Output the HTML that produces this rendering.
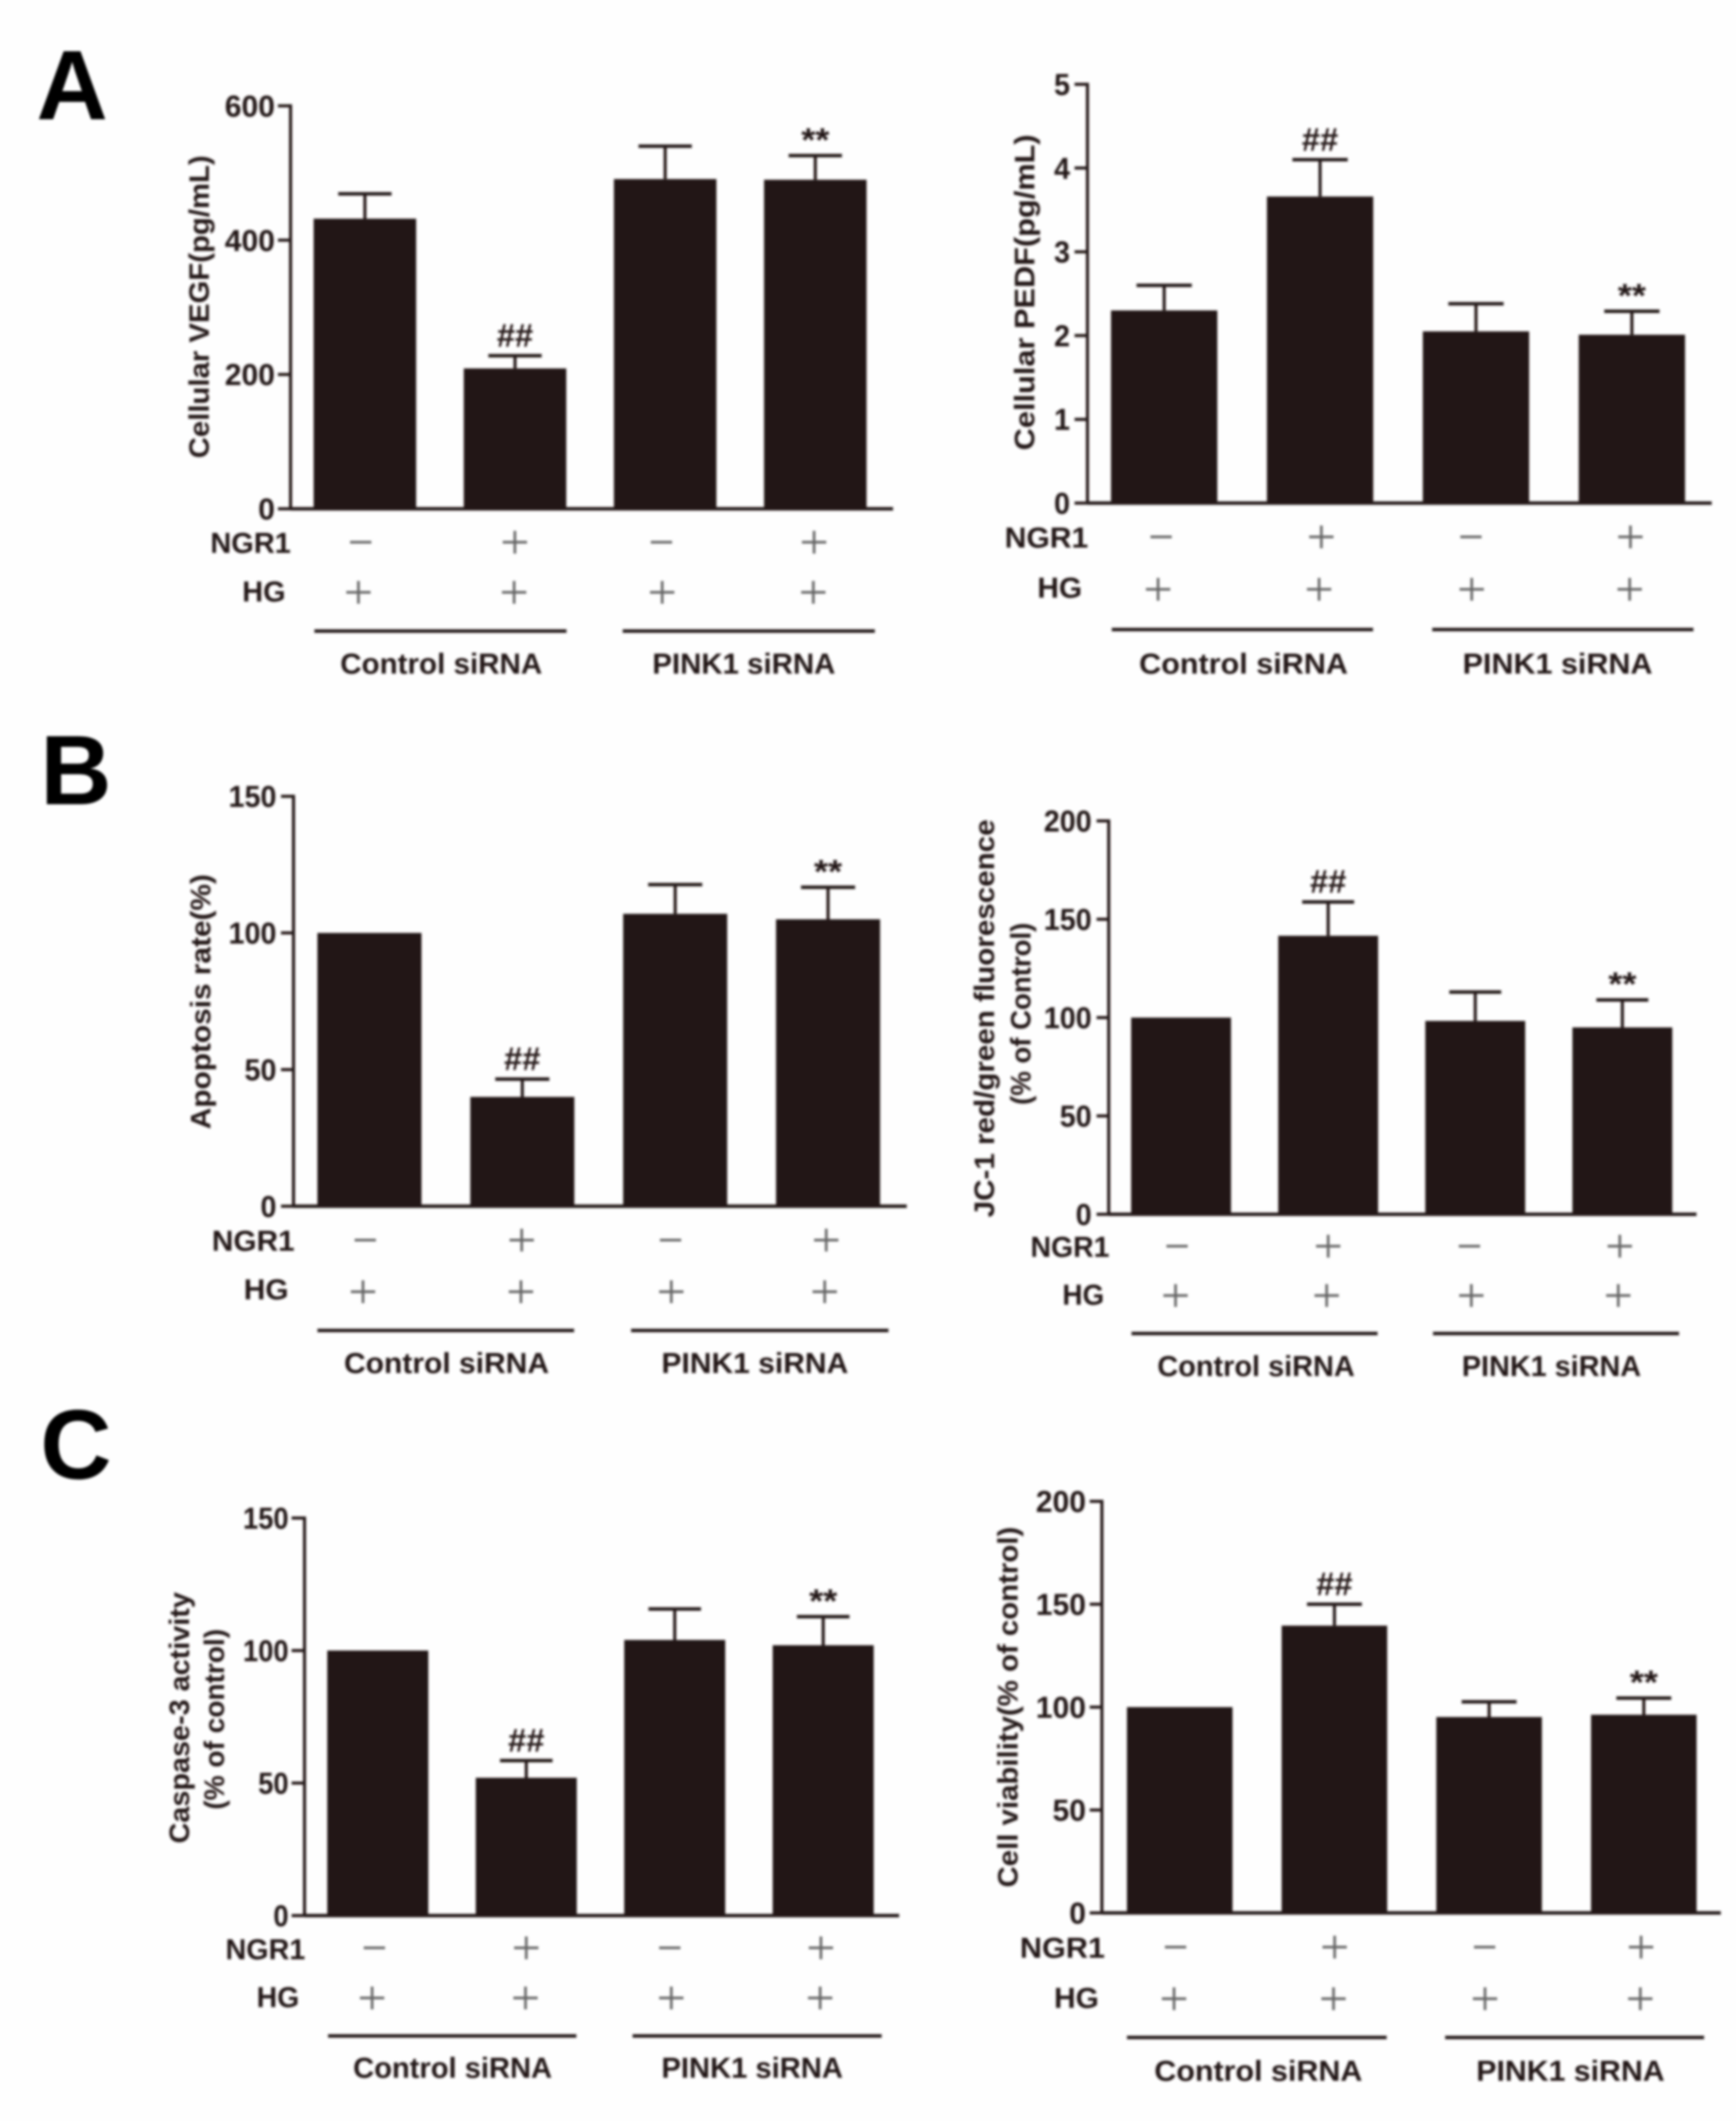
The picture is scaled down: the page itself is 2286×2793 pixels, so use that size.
<!DOCTYPE html>
<html lang="en">
<head>
<meta charset="utf-8">
<title>Six-panel bar chart figure</title>
<style>
html,body{margin:0;padding:0;background:#fff;}
svg{display:block;}
text{font-family:"Liberation Sans",Arial,sans-serif;font-weight:bold;fill:#231815;}
.letter{font-size:130px;fill:#000;}
.title{font-size:37px;text-anchor:middle;}
.row{font-size:38px;}
.group{font-size:38px;}
.tick{font-size:40px;text-anchor:end;}
.hash{font-size:44px;text-anchor:middle;}
.star{font-size:44px;text-anchor:middle;}
.gline{stroke:#231815;stroke-width:4.5;}
</style>
</head>
<body>
<svg xmlns="http://www.w3.org/2000/svg" width="2286" height="2793" viewBox="0 0 2286 2793">
<defs><filter id="soft" x="0" y="0" width="100%" height="100%" filterUnits="userSpaceOnUse" primitiveUnits="userSpaceOnUse"><feGaussianBlur stdDeviation="1.7"/></filter></defs>
<rect width="2286" height="2793" fill="#fefefe"/>
<g filter="url(#soft)">

<text class="letter" x="48" y="157">A</text>
<text class="letter" x="53" y="1059">B</text>
<text class="letter" x="53" y="1947">C</text>

<g id="vegf">
  <text class="title" transform="translate(275,404) rotate(-90)" textLength="399" lengthAdjust="spacingAndGlyphs">Cellular VEGF(pg/mL)</text>
  <text class="row" x="277" y="728" textLength="106" lengthAdjust="spacingAndGlyphs">NGR1</text>
  <text class="row" x="319" y="792" textLength="57" lengthAdjust="spacingAndGlyphs">HG</text>
  <line class="gline" x1="414" x2="746" y1="831" y2="831"/>
  <line class="gline" x1="820" x2="1152" y1="831" y2="831"/>
  <text class="group" x="448" y="887" textLength="266" lengthAdjust="spacingAndGlyphs">Control siRNA</text>
  <text class="group" x="859" y="887" textLength="241" lengthAdjust="spacingAndGlyphs">PINK1 siRNA</text>
</g>

<g id="pedf">
  <text class="title" transform="translate(1362,385) rotate(-90)" textLength="416" lengthAdjust="spacingAndGlyphs">Cellular PEDF(pg/mL)</text>
  <text class="row" x="1323" y="721" textLength="110" lengthAdjust="spacingAndGlyphs">NGR1</text>
  <text class="row" x="1366" y="787" textLength="59" lengthAdjust="spacingAndGlyphs">HG</text>
  <line class="gline" x1="1464" x2="1808" y1="829" y2="829"/>
  <line class="gline" x1="1886" x2="2230" y1="829" y2="829"/>
  <text class="group" x="1500" y="887" textLength="275" lengthAdjust="spacingAndGlyphs">Control siRNA</text>
  <text class="group" x="1926" y="887" textLength="250" lengthAdjust="spacingAndGlyphs">PINK1 siRNA</text>
</g>

<g id="apoptosis">
  <text class="title" transform="translate(277,1319) rotate(-90)" textLength="336" lengthAdjust="spacingAndGlyphs">Apoptosis rate(%)</text>
  <text class="row" x="279" y="1647" textLength="109" lengthAdjust="spacingAndGlyphs">NGR1</text>
  <text class="row" x="321" y="1711" textLength="59" lengthAdjust="spacingAndGlyphs">HG</text>
  <line class="gline" x1="418" x2="756" y1="1752" y2="1752"/>
  <line class="gline" x1="831" x2="1170" y1="1752" y2="1752"/>
  <text class="group" x="453" y="1808" textLength="270" lengthAdjust="spacingAndGlyphs">Control siRNA</text>
  <text class="group" x="871" y="1808" textLength="246" lengthAdjust="spacingAndGlyphs">PINK1 siRNA</text>
</g>

<g id="jc1">
  <text class="title" transform="translate(1309,1341) rotate(-90)" textLength="524" lengthAdjust="spacingAndGlyphs">JC-1 red/green fluorescence</text>
  <text class="title" transform="translate(1357,1335) rotate(-90)" textLength="240" lengthAdjust="spacingAndGlyphs">(% of Control)</text>
  <text class="row" x="1357" y="1655" textLength="104" lengthAdjust="spacingAndGlyphs">NGR1</text>
  <text class="row" x="1399" y="1718" textLength="55" lengthAdjust="spacingAndGlyphs">HG</text>
  <line class="gline" x1="1490" x2="1814" y1="1756" y2="1756"/>
  <line class="gline" x1="1887" x2="2211" y1="1756" y2="1756"/>
  <text class="group" x="1524" y="1812" textLength="260" lengthAdjust="spacingAndGlyphs">Control siRNA</text>
  <text class="group" x="1925" y="1812" textLength="236" lengthAdjust="spacingAndGlyphs">PINK1 siRNA</text>
</g>

<g id="caspase">
  <text class="title" transform="translate(249,2262) rotate(-90)" textLength="331" lengthAdjust="spacingAndGlyphs">Caspase-3 activity</text>
  <text class="title" transform="translate(295,2264) rotate(-90)" textLength="238" lengthAdjust="spacingAndGlyphs">(% of control)</text>
  <text class="row" x="297" y="2580" textLength="105" lengthAdjust="spacingAndGlyphs">NGR1</text>
  <text class="row" x="338" y="2643" textLength="56" lengthAdjust="spacingAndGlyphs">HG</text>
  <line class="gline" x1="432" x2="759" y1="2681" y2="2681"/>
  <line class="gline" x1="833" x2="1161" y1="2681" y2="2681"/>
  <text class="group" x="465" y="2736" textLength="262" lengthAdjust="spacingAndGlyphs">Control siRNA</text>
  <text class="group" x="871" y="2736" textLength="239" lengthAdjust="spacingAndGlyphs">PINK1 siRNA</text>
</g>

<g id="viability">
  <text class="title" transform="translate(1340,2248) rotate(-90)" textLength="475" lengthAdjust="spacingAndGlyphs">Cell viability(% of control)</text>
  <text class="row" x="1343" y="2578" textLength="112" lengthAdjust="spacingAndGlyphs">NGR1</text>
  <text class="row" x="1388" y="2644" textLength="59" lengthAdjust="spacingAndGlyphs">HG</text>
  <line class="gline" x1="1484" x2="1826" y1="2683" y2="2683"/>
  <line class="gline" x1="1903" x2="2244" y1="2683" y2="2683"/>
  <text class="group" x="1520" y="2740" textLength="274" lengthAdjust="spacingAndGlyphs">Control siRNA</text>
  <text class="group" x="1944" y="2740" textLength="248" lengthAdjust="spacingAndGlyphs">PINK1 siRNA</text>
</g>
</g>
</svg>

<script>
// Shared categories
const categories = ['Control siRNA HG', 'Control siRNA HG+NGR1', 'PINK1 siRNA HG', 'PINK1 siRNA HG+NGR1'];
const ngr1Signs = ['-', '+', '-', '+'];
const hgSigns = ['+', '+', '+', '+'];
const significance = ['', '##', '', '**'];

// Values
const vegfTicks = [0, 200, 400, 600];
const vegfValues = [432, 209, 491, 490];
const vegfErrors = [37, 19, 49, 36];

const pedfTicks = [0, 1, 2, 3, 4, 5];
const pedfValues = [2.30, 3.66, 2.05, 2.01];
const pedfErrors = [0.30, 0.44, 0.33, 0.28];

const apoptosisTicks = [0, 50, 100, 150];
const apoptosisValues = [100, 40, 107, 105];
const apoptosisErrors = [0, 6.5, 10.7, 11.7];

const jc1Ticks = [0, 50, 100, 150, 200];
const jc1Values = [100, 141.6, 98.3, 95];
const jc1Errors = [0, 17.2, 14.7, 14];

const caspaseTicks = [0, 50, 100, 150];
const caspaseValues = [100, 52, 104, 102];
const caspaseErrors = [0, 6.5, 11.7, 10.8];

const viabilityTicks = [0, 50, 100, 150, 200];
const viabilityValues = [100, 139.6, 95.2, 96.3];
const viabilityErrors = [0, 10.4, 7.4, 8.1];

// Frame geometry for each chart (layout, not data)
const vegfFrame = {axisX: 382.6, top: 139.4, zero: 670, end: 1176, tickX: 366, labelX: 362, digitW: 22, barStart: 413, step: 197.7, barW: 135, ngrXs: [475, 678, 871, 1072], ngrY: 714, hgXs: [472, 677, 872, 1071], hgY: 780};
const pedfFrame = {axisX: 1432, top: 111, zero: 662.5, end: 2254, tickX: 1415, labelX: 1409, digitW: 21, barStart: 1463, step: 205.3, barW: 140, ngrXs: [1529, 1740, 1937, 2147], ngrY: 707, hgXs: [1525, 1737, 1938, 2146], hgY: 776};
const apoptosisFrame = {axisX: 386.5, top: 1048.6, zero: 1588.4, end: 1194, tickX: 370, labelX: 364, digitW: 21, barStart: 418, step: 201.3, barW: 137, ngrXs: [481, 687, 883, 1088], ngrY: 1633, hgXs: [478, 686, 884, 1086], hgY: 1701};
const jc1Frame = {axisX: 1460, top: 1081, zero: 1599, end: 2234, tickX: 1444, labelX: 1437.5, digitW: 21, barStart: 1489.5, step: 193.7, barW: 131.5, ngrXs: [1550, 1749, 1935, 2133], ngrY: 1641, hgXs: [1548, 1747, 1937.5, 2131], hgY: 1706};
const caspaseFrame = {axisX: 401, top: 1999, zero: 2522.5, end: 1184, tickX: 384, labelX: 380, digitW: 20, barStart: 431, step: 195.5, barW: 133, ngrXs: [493, 693, 882, 1081], ngrY: 2565, hgXs: [490, 692, 884, 1080], hgY: 2631};
const viabilityFrame = {axisX: 1451, top: 1977, zero: 2519, end: 2266, tickX: 1435, labelX: 1430, digitW: 22, barStart: 1484, step: 203.7, barW: 139, ngrXs: [1548, 1757.5, 1955, 2161], ngrY: 2564, hgXs: [1546, 1756, 1955.5, 2160], hgY: 2632};

const SVG_NS = 'http://www.w3.org/2000/svg';
const INK = '#231815';

function shape(parent, tag, props) {
  const el = document.createElementNS(SVG_NS, tag);
  for (const k in props) el.setAttribute(k, props[k]);
  parent.appendChild(el);
  return el;
}

function drawSign(parent, sign, cx, cy) {
  const across = shape(parent, 'line', {x1: cx - (sign === '+' ? 16 : 14), x2: cx + (sign === '+' ? 16 : 14), y1: cy, y2: cy, stroke: '#666', 'stroke-width': 3.5});
  if (sign === '+') {
    
    
    const upright = shape(parent, 'line', {x1: cx, x2: cx, y1: cy - 15, y2: cy + 15, stroke: '#666', 'stroke-width': 3.5});
    
    
  } else {
    
    
  }
}

function drawChart(id, frame, ticks, values, errors) {
  const g = document.getElementById(id);
  const yMax = ticks[ticks.length - 1];
  const yScale = v => frame.zero - (v / yMax) * (frame.zero - frame.top);
  const xScale = i => frame.barStart + i * frame.step;
  const capHalf = frame.barW * 0.26;

  categories.forEach((cat, i) => {
    const x = xScale(i);
    const cx = x + frame.barW / 2;
    const topY = yScale(values[i]);

    const bar = shape(g, 'rect', {x: x, y: topY, width: frame.barW, height: frame.zero - topY, fill: INK});
    
    

    const errY = yScale(values[i] + errors[i]);
    if (errors[i] > 0) {
      const stem = shape(g, 'line', {x1: cx, x2: cx, y1: topY, y2: errY, stroke: INK, 'stroke-width': 4});
      
      
      const cap = shape(g, 'line', {x1: cx - capHalf, x2: cx + capHalf, y1: errY, y2: errY, stroke: INK, 'stroke-width': 4.5});
      
      
    }

    if (significance[i]) {
      const isHash = significance[i] === '##';
      const mark = shape(g, 'text', {x: cx, y: errY - (isHash ? 12 : 6), class: isHash ? 'hash' : 'star', textLength: isHash ? 48 : 37, lengthAdjust: 'spacingAndGlyphs'});
      mark.textContent = significance[i];
      
      
    }

    drawSign(g, ngr1Signs[i], frame.ngrXs[i], frame.ngrY);
    drawSign(g, hgSigns[i], frame.hgXs[i], frame.hgY);
  });

  const yAxis = shape(g, 'line', {x1: frame.axisX, x2: frame.axisX, y1: frame.top - 2, y2: frame.zero + 2, stroke: INK, 'stroke-width': 4});
  
  

  const xAxis = shape(g, 'line', {x1: frame.axisX, x2: frame.end, y1: frame.zero, y2: frame.zero, stroke: INK, 'stroke-width': 4.5});
  
  

  ticks.forEach(t => {
    const y = yScale(t);
    const tick = shape(g, 'line', {x1: frame.tickX, x2: frame.axisX, y1: y, y2: y, stroke: INK, 'stroke-width': 4});
    
    
    const text = String(t);
    const label = shape(g, 'text', {x: frame.labelX, y: y + 14, class: 'tick', textLength: text.length * frame.digitW, lengthAdjust: 'spacingAndGlyphs'});
    label.textContent = text;
    
    
  });
}

drawChart('vegf', vegfFrame, vegfTicks, vegfValues, vegfErrors);
drawChart('pedf', pedfFrame, pedfTicks, pedfValues, pedfErrors);
drawChart('apoptosis', apoptosisFrame, apoptosisTicks, apoptosisValues, apoptosisErrors);
drawChart('jc1', jc1Frame, jc1Ticks, jc1Values, jc1Errors);
drawChart('caspase', caspaseFrame, caspaseTicks, caspaseValues, caspaseErrors);
drawChart('viability', viabilityFrame, viabilityTicks, viabilityValues, viabilityErrors);
</script>
</body>
</html>
